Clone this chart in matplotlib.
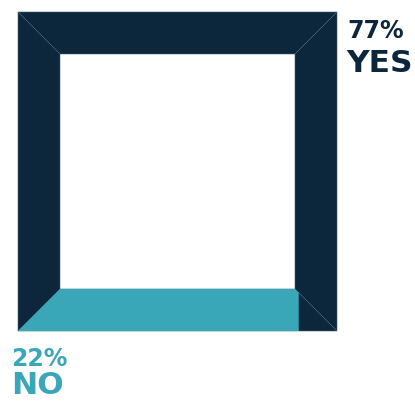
import matplotlib
matplotlib.use('Agg')
import matplotlib.pyplot as plt
from matplotlib.patches import Polygon

# data
categorias = ['YES', 'NO']
valores = [77, 22]
cores = ['#0c263b', '#3aa7b9']

# square frame geometry (pixel units)
x0, x1 = 18, 337
y0, y1 = 12, 331
t = 42

fig = plt.figure(figsize=(4.15, 4.01), dpi=100)
ax = fig.add_axes([0, 0, 1, 1])
ax.set_xlim(0, 415)
ax.set_ylim(401, 0)
ax.axis('off')

borda = '#4a6176'
lados = [
    [(x0, y0), (x1, y0), (x1 - t, y0 + t), (x0 + t, y0 + t)],      # top
    [(x1, y0), (x1, y1), (x1 - t, y1 - t), (x1 - t, y0 + t)],      # right
    [(x1, y1), (x0, y1), (x0 + t, y1 - t), (x1 - t, y1 - t)],      # bottom
    [(x0, y1), (x0, y0), (x0 + t, y0 + t), (x0 + t, y1 - t)],      # left
]
for lado in lados:
    ax.add_patch(Polygon(lado, closed=True, facecolor=cores[0], edgecolor=borda, linewidth=0.4))

# "NO" share fills the bottom side from the left corner
frac = valores[1] / 25.0
corte = x0 + frac * (x1 - x0)
pts = [(x0, y1), (x0 + t, y1 - t)]
if corte <= x1 - t:
    pts += [(corte, y1 - t), (corte, y1)]
else:
    pts += [(x1 - t, y1 - t), (corte, y1 - t + (corte - (x1 - t))), (corte, y1)]
ax.add_patch(Polygon(pts, closed=True, facecolor=cores[1], edgecolor='none'))

fonte = ['DejaVu Sans']
ax.text(347, 38, f"{valores[0]}%", color=cores[0], fontsize=17, fontweight='bold',
        family=fonte, ha='left', va='baseline')
ax.text(346, 72, categorias[0], color=cores[0], fontsize=22.5, fontweight='bold',
        family=fonte, ha='left', va='baseline')
ax.text(11, 366, f"{valores[1]}%", color=cores[1], fontsize=17, fontweight='bold',
        family=fonte, ha='left', va='baseline')
ax.text(11, 400, categorias[1], color=cores[1], fontsize=22.5, fontweight='bold',
        family=fonte, ha='left', va='bottom')

plt.savefig('out.png', dpi=100)
plt.close()
